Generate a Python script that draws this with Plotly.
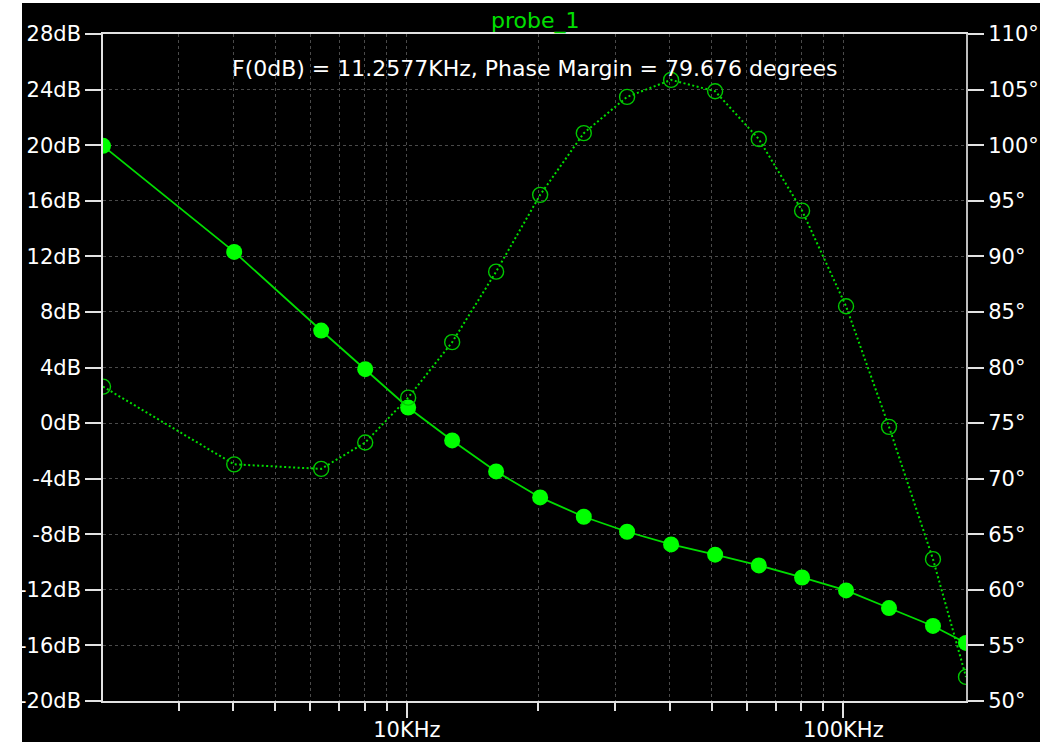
import math
import plotly.graph_objects as go

# AC sweep of probe_1: frequency (Hz), loop gain (dB), phase (degrees)
freq_hz = [2013, 4022, 6364, 8027, 10069, 12700, 16014, 20200, 25430, 31955,
           40310, 50840, 64020, 80440, 101440, 127250, 160460, 190990]
gain_db = [19.95, 12.32, 6.66, 3.88, 1.12, -1.25, -3.48, -5.35, -6.74, -7.82,
           -8.73, -9.47, -10.24, -11.11, -12.04, -13.31, -14.60, -15.82]
phase_deg = [78.28, 71.29, 70.88, 73.25, 77.29, 82.28, 88.62, 95.53, 101.08, 104.34,
             105.87, 104.85, 100.55, 94.11, 85.51, 74.66, 62.76, 52.17]

# Axis ticks
gain_ticks = list(range(-20, 29, 4))
gain_labels = [f"{v}dB" for v in gain_ticks]
phase_ticks = list(range(50, 111, 5))
phase_labels = [f"{v}°" for v in phase_ticks]
freq_major = [1e4, 1e5]
freq_major_labels = ["10KHz", "100KHz"]
freq_minor = [3e3, 4e3, 5e3, 6e3, 7e3, 8e3, 9e3,
              2e4, 3e4, 4e4, 5e4, 6e4, 7e4, 8e4, 9e4]

title_text = "probe_1"
result_text = "F(0dB) = 11.2577KHz, Phase Margin = 79.676 degrees"

GREEN = "#00ff00"
LINE_GREEN = "#00dd00"
RING_GREEN = "#00c800"
AXIS = "#e2e2e2"
GRID = "#4a4a4a"
FONT = "DejaVu Sans"
TICK_FS = 21
TEXT_FS = 22

W, H = 1048, 742
ML, MR, MT, MB = 103, 82, 34, 41
PW, PH = W - ML - MR, H - MT - MB

fig = go.Figure()

# phase curve (dotted line with open rings, right axis)
fig.add_trace(go.Scatter(
    x=freq_hz, y=phase_deg, yaxis="y2", mode="lines",
    line=dict(color=LINE_GREEN, width=2, dash="2px,2.5px"),
    showlegend=False, hoverinfo="skip",
))
fig.add_trace(go.Scatter(
    x=freq_hz, y=phase_deg, yaxis="y2", mode="markers",
    marker=dict(symbol="circle-open", size=15, color=RING_GREEN,
                line=dict(color=RING_GREEN, width=1.4)),
    showlegend=False,
))
# gain curve (solid with filled dots, left axis)
fig.add_trace(go.Scatter(
    x=freq_hz, y=gain_db, mode="lines+markers",
    line=dict(color=LINE_GREEN, width=1.8),
    marker=dict(color=GREEN, size=16, line=dict(width=0)),
    showlegend=False,
))

shapes = [
    # dark panel behind the whole graph (stays inside the page)
    dict(type="rect", xref="paper", yref="paper",
         x0=(22 - ML) / PW, x1=(1040 - ML) / PW,
         y0=-MB / PH, y1=(H - MB - 3) / PH,
         fillcolor="#000000", line=dict(width=0), layer="below"),
]

fig.update_layout(
    template="none",
    width=W, height=H, autosize=False,
    margin=dict(l=ML, r=MR, t=MT, b=MB, pad=0, autoexpand=False),
    paper_bgcolor="#ffffff", plot_bgcolor="#000000",
    font=dict(family=FONT, size=TICK_FS, color="#ffffff"),
    shapes=shapes,
    xaxis=dict(
        type="log", automargin=False,
        range=[math.log10(freq_hz[0]), math.log10(freq_hz[-1])],
        tickmode="array", tickvals=freq_major, ticktext=freq_major_labels,
        ticks="outside", ticklen=15, tickwidth=1.5, tickcolor=AXIS,
        ticklabelstandoff=-6,
        showline=True, linecolor=AXIS, linewidth=1.5, mirror=True,
        showgrid=True, gridcolor=GRID, griddash="dot", gridwidth=1,
        zeroline=False,
        minor=dict(tickmode="array", tickvals=freq_minor, ticks="outside",
                   ticklen=8, tickwidth=1.5, tickcolor=AXIS,
                   showgrid=True, gridcolor=GRID, griddash="dot", gridwidth=1),
        tickfont=dict(family=FONT, size=TICK_FS, color="#ffffff"),
    ),
    yaxis=dict(
        automargin=False,
        range=[-20, 28], tickmode="array", tickvals=gain_ticks, ticktext=gain_labels,
        ticks="outside", ticklen=16, tickwidth=1.5, tickcolor=AXIS,
        showline=True, linecolor=AXIS, linewidth=1.5,
        showgrid=True, gridcolor=GRID, griddash="dot", gridwidth=1,
        zeroline=False,
        tickfont=dict(family=FONT, size=TICK_FS, color="#ffffff"),
    ),
    yaxis2=dict(
        automargin=False,
        range=[50, 110], overlaying="y", side="right",
        tickmode="array", tickvals=phase_ticks, ticktext=phase_labels,
        ticks="outside", ticklen=16, tickwidth=1.5, tickcolor=AXIS,
        showline=True, linecolor="#bdbdbd", linewidth=2,
        showgrid=False, zeroline=False,
        tickfont=dict(family=FONT, size=TICK_FS, color="#ffffff"),
    ),
    annotations=[
        dict(text=title_text, xref="paper", yref="paper", x=0.5, y=1.0195,
             xanchor="center", yanchor="middle", showarrow=False,
             font=dict(family=FONT, size=TEXT_FS, color="#00e000")),
        dict(text=result_text, xref="paper", yref="paper", x=0.5, y=0.949,
             xanchor="center", yanchor="middle", showarrow=False,
             font=dict(family=FONT, size=TEXT_FS, color="#ffffff")),
    ],
)

fig.write_html("out.html")
